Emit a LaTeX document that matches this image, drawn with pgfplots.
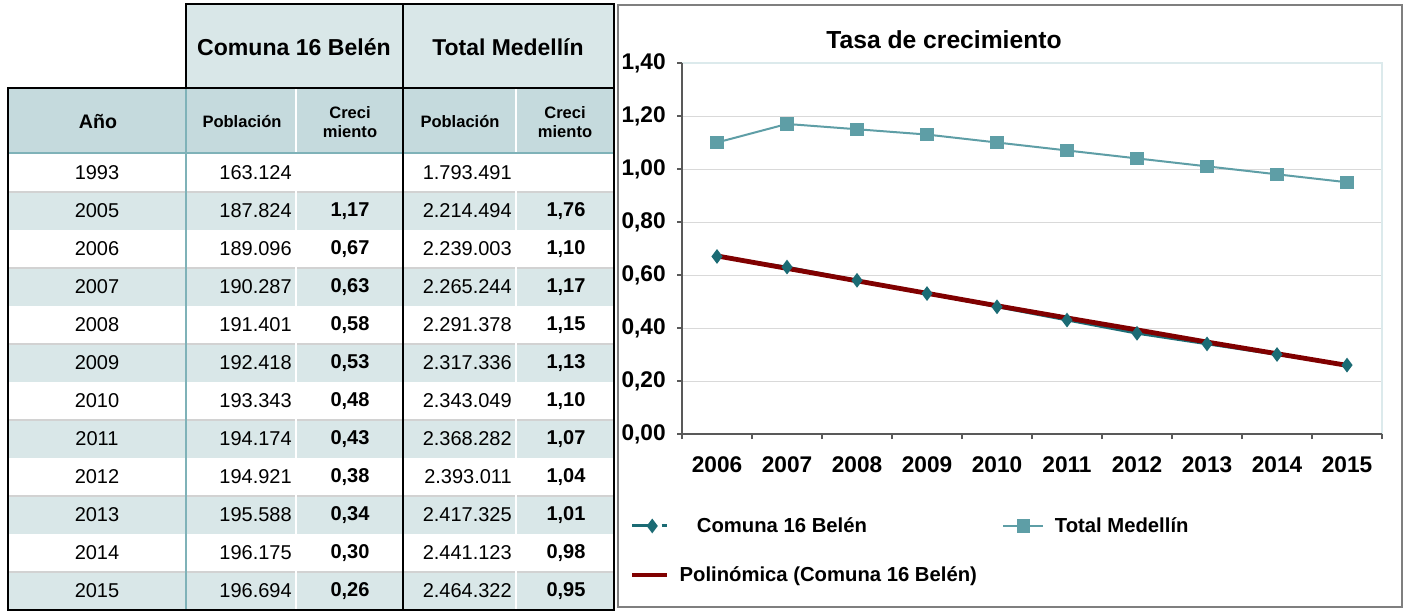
\documentclass[border=0pt]{standalone}
\usepackage{fontspec}
\setmainfont{Liberation Sans}
\usepackage{pgfplots}
\pgfplotsset{compat=1.18}

\definecolor{tabA}{HTML}{D9E7E8}
\definecolor{tabB}{HTML}{C5DADD}
\definecolor{tabline}{HTML}{7FB2B8}
\definecolor{rowline}{HTML}{D2D2D2}
\definecolor{comuna}{HTML}{1B6B74}
\definecolor{medellin}{HTML}{5E9EA6}
\definecolor{trend}{HTML}{800000}
\definecolor{gridgray}{HTML}{D9D9D9}
\definecolor{axisgray}{HTML}{595959}
\definecolor{framegray}{HTML}{7F7F7F}
\definecolor{edgeteal}{HTML}{DCEAEC}

\newcommand\fs[1]{\fontsize{#1}{1.2\dimexpr #1\relax}\selectfont}

\begin{document}
\begin{tikzpicture}
\useasboundingbox (0,0) rectangle (1056pt,-458.25pt);
\fill[white] (0,0) rectangle (1056pt,-458.25pt);

% ---- table (1 unit = 1 px of the reference) ----
\begin{scope}[x=0.75pt,y=-0.75pt]
  \fill[tabA] (186,4) rectangle (614,88);
  \fill[tabB] (8,88) rectangle (614,153);
  \foreach \r in {1,3,...,11}
    \fill[tabA] (8,{154+38*\r}) rectangle (614,{192+38*\r});
  \foreach \r in {1,3,...,11}
    \draw[rowline, line width=1.2pt] (8,{154+38*\r}) -- (614,{154+38*\r});
  \draw[white, line width=1.5pt] (296,88) -- (296,610) (516,88) -- (516,610);
  \draw[tabline, line width=1.5pt] (186,88) -- (186,610);
  \draw[tabline, line width=2.2pt] (8,153) -- (614,153);
  \draw[black, line width=1.5pt] (186,88) -- (186,4) -- (614,4) -- (614,610) -- (8,610) -- (8,88) -- (614,88);
  \draw[black, line width=1.5pt] (403,4) -- (403,610);

  % headers
  \node[font=\bfseries\fs{17.3pt}] at (294,47) {Comuna 16 Belén};
  \node[font=\bfseries\fs{17.2pt}] at (508,47) {Total Medellín};
  \node[font=\bfseries\fs{14.7pt}] at (98,122) {Año};
  \node[font=\bfseries\fs{12.4pt}] at (242,122) {Población};
  \node[font=\bfseries\fs{12.4pt}] at (460,122) {Población};
  \node[font=\bfseries\fs{12.4pt}, align=center, inner sep=0pt] at (350,122) {Creci\\[-1pt]miento};
  \node[font=\bfseries\fs{12.4pt}, align=center, inner sep=0pt] at (565,122) {Creci\\[-1pt]miento};

  % body: row / year / pop. Comuna / growth Comuna / pop. Medellin / growth Medellin
  \foreach \i/\yr/\pa/\ca/\pb/\cb in {
      0/1993/163.124/{}/1.793.491/{},
      1/2005/187.824/{1,17}/2.214.494/{1,76},
      2/2006/189.096/{0,67}/2.239.003/{1,10},
      3/2007/190.287/{0,63}/2.265.244/{1,17},
      4/2008/191.401/{0,58}/2.291.378/{1,15},
      5/2009/192.418/{0,53}/2.317.336/{1,13},
      6/2010/193.343/{0,48}/2.343.049/{1,10},
      7/2011/194.174/{0,43}/2.368.282/{1,07},
      8/2012/194.921/{0,38}/2.393.011/{1,04},
      9/2013/195.588/{0,34}/2.417.325/{1,01},
      10/2014/196.175/{0,30}/2.441.123/{0,98},
      11/2015/196.694/{0,26}/2.464.322/{0,95}} {
    \node[font=\fs{15pt}] at (97,{173+38*\i}) {\yr};
    \node[font=\fs{15pt}, anchor=east, inner sep=0pt] at (292,{173+38*\i}) {\pa};
    \node[font=\bfseries\fs{15pt}] at (350,{173+38*\i}) {\ca};
    \node[font=\fs{15pt}, anchor=east, inner sep=0pt] at (512,{173+38*\i}) {\pb};
    \node[font=\bfseries\fs{15pt}] at (566,{173+38*\i}) {\cb};
  }

  % chart frame and title
  \draw[framegray, line width=0.8pt] (618,5) rectangle (1402,607);
  \node[font=\bfseries\fs{18.5pt}] at (944,40) {Tasa de crecimiento};
\end{scope}

% ---- chart ----
\begin{axis}[
    at={(511.5pt,-325.5pt)}, anchor=south west,
    scale only axis,
    width=525pt, height=278.25pt,
    xmin=0.5, xmax=10.5,
    ymin=0, ymax=1.4,
    xtick={1,...,10},
    xticklabels={2006,2007,2008,2009,2010,2011,2012,2013,2014,2015},
    minor xtick={0.5,1.5,...,10.5},
    ytick={0,0.2,...,1.4},
    tick pos=left,
    tick align=outside,
    major x tick style={draw=none},
    minor x tick style={draw=axisgray, line width=0.9pt},
    minor tick length=3.75pt,
    major tick length=3.75pt,
    ytick style={draw=axisgray, line width=0.9pt},
    ymajorgrids,
    grid style={draw=gridgray, line width=0.75pt},
    axis line style={draw=none},
    /pgf/number format/assume math mode=true,
    y tick label style={font=\bfseries\fs{17pt}, xshift=-5pt, /pgf/number format/fixed,
        /pgf/number format/fixed zerofill, /pgf/number format/precision=2,
        /pgf/number format/use comma},
    x tick label style={font=\bfseries\fs{17pt}, yshift=-10pt},
    legend columns=2,
    legend cell align=left,
    legend style={at={(-0.08,-0.21)}, anchor=north west, draw=none, fill=none,
        font=\bfseries\fs{15.2pt}, row sep=20pt,
        /tikz/every odd column/.append style={column sep=6pt},
        /tikz/every even column/.append style={column sep=17pt}},
    after end axis/.code={
        \draw[edgeteal, line width=1.2pt] (rel axis cs:0,1) -- (rel axis cs:1,1) -- (rel axis cs:1,0);
        \draw[axisgray, line width=1.2pt] (rel axis cs:0,1) -- (rel axis cs:0,0) -- (rel axis cs:1,0);
    },
]

% Comuna 16 Belen
\addplot[color=comuna, line width=2pt, mark=diamond*, mark size=3.9pt, mark options={solid, fill=comuna},
    legend image code/.code={
        \draw[line width=2.2pt] (0pt,0pt) -- (15pt,0pt);
        \draw plot[mark=diamond*, mark size=3.9pt] coordinates {(15pt,0pt)};
        \draw[line width=2.2pt] (22pt,0pt) -- (26pt,0pt);
    }] coordinates {
    (1,0.67) (2,0.63) (3,0.58) (4,0.53) (5,0.48)
    (6,0.43) (7,0.38) (8,0.34) (9,0.30) (10,0.26)
};
\addlegendentry{\hspace{13pt}Comuna 16 Belén}

% Total Medellin
\addplot[color=medellin, line width=1.5pt, mark=square*, mark size=4.2pt, mark options={solid, fill=medellin},
    legend image code/.code={
        \draw[line width=1.5pt] (0pt,0pt) -- (30pt,0pt);
        \draw plot[mark=square*, mark size=4.2pt] coordinates {(15pt,0pt)};
    }] coordinates {
    (1,1.10) (2,1.17) (3,1.15) (4,1.13) (5,1.10)
    (6,1.07) (7,1.04) (8,1.01) (9,0.98) (10,0.95)
};
\addlegendentry{Total Medellín}

% Polinomica (Comuna 16 Belen)
\addplot[color=trend, line width=3.6pt, mark=none,
    legend image code/.code={
        \draw[line width=3pt] (0pt,0pt) -- (26pt,0pt);
    }] coordinates {
    (1,0.672) (2,0.625) (3,0.578) (4,0.531) (5,0.484)
    (6,0.438) (7,0.393) (8,0.347) (9,0.303) (10,0.259)
};
\addlegendentry{Polinómica (Comuna 16 Belén)}

\end{axis}
\end{tikzpicture}
\end{document}
